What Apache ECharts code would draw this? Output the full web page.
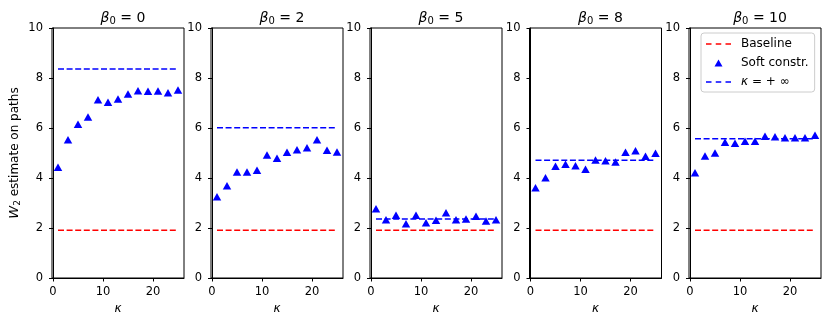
<!DOCTYPE html>
<html><head><meta charset="utf-8">
<script src="https://cdn.jsdelivr.net/npm/echarts@6/dist/echarts.min.js"></script>
<style>html,body{margin:0;padding:0;background:#fff}#c{width:830px;height:325px}</style>
</head><body><div id="c"></div>
<script>
const kappa = [1,3,5,7,9,11,13,15,17,19,21,23,25];
const betas = [0,2,5,8,10];
const baselineValues = [1.91,1.91,1.91,1.91,1.91];
const infValues = [8.36,6.01,2.36,4.71,5.57];
const soft0  = [4.43,5.53,6.15,6.44,7.13,7.03,7.16,7.36,7.49,7.47,7.48,7.41,7.52];
const soft2  = [3.25,3.69,4.24,4.24,4.31,4.92,4.79,5.03,5.13,5.21,5.53,5.11,5.04];
const soft5  = [2.77,2.33,2.51,2.17,2.51,2.21,2.31,2.61,2.33,2.36,2.47,2.28,2.33];
const soft8  = [3.61,4.01,4.47,4.55,4.49,4.35,4.72,4.69,4.64,5.03,5.09,4.87,4.99];
const soft10 = [4.21,4.88,5.00,5.43,5.39,5.47,5.47,5.67,5.65,5.61,5.61,5.61,5.71];
const softAll = [soft0,soft2,soft5,soft8,soft10];
const xTicks = [0,10,20];
const legendNames = ['Baseline','Soft constr.','κ = + ∞'];

const FONT = 'DejaVu Sans';
const lefts = [52,211,370,529.5,689];
const W = 132, TOP = 28, H = 250;
const grids=[], xAxes=[], yAxes=[], series=[], titles=[];
betas.forEach((b,i)=>{
  grids.push({left:lefts[i], top:TOP, width:W, height:H, show:true, borderColor:'#000', borderWidth:1, containLabel:false});
  xAxes.push({type:'value', gridIndex:i, min:-0.2, max:26.2,
    name:'κ', nameLocation:'middle', nameGap:25,
    nameTextStyle:{fontFamily:FONT, fontSize:12, fontStyle:'italic', color:'#000'},
    axisLine:{show:true, onZero:false, lineStyle:{color:'#000'}},
    axisTick:{show:true, length:3.5, customValues:xTicks, lineStyle:{color:'#000'}},
    axisLabel:{customValues:xTicks, fontFamily:FONT, fontSize:11.5, color:'#000', margin:8},
    splitLine:{show:false}});
  yAxes.push({type:'value', gridIndex:i, min:0, max:10, interval:2,
    name: i===0 ? '{i|W}{s|2} estimate on paths' : '',
    nameLocation:'middle', nameGap:30, nameRotate:90,
    nameTextStyle:{fontFamily:FONT, fontSize:12, color:'#000',
      rich:{i:{fontFamily:FONT, fontSize:13, fontStyle:'italic', color:'#000'},
            s:{fontFamily:FONT, fontSize:9, color:'#000', padding:[5,0,0,0]}}},
    axisLine:{show:true, lineStyle:{color:'#000'}},
    axisTick:{show:true, length:4, lineStyle:{color:'#000'}},
    axisLabel:{fontFamily:FONT, fontSize:11.5, color:'#000', margin:9},
    splitLine:{show:false}});
  titles.push({text:'{i|β}{s|0}{n| = '+b+'}', left:lefts[i]+W/2, top:5, textAlign:'center',
    textStyle:{fontWeight:'normal', rich:{i:{fontFamily:FONT, fontSize:14, fontStyle:'italic', fontWeight:'normal', color:'#000'},
      s:{fontFamily:FONT, fontSize:10, fontWeight:'normal', color:'#000', padding:[6,0,0,0]},
      n:{fontFamily:FONT, fontSize:14, fontWeight:'normal', color:'#000'}}}});
  series.push({name:legendNames[0], type:'line', xAxisIndex:i, yAxisIndex:i, symbol:'none',
    data:[[kappa[0],baselineValues[i]],[kappa[kappa.length-1],baselineValues[i]]],
    lineStyle:{color:'#ff0000', width:1.7, type:[6,2.6]}, itemStyle:{color:'#ff0000'}, z:2, animation:false, silent:true});
  series.push({name:legendNames[2], type:'line', xAxisIndex:i, yAxisIndex:i, symbol:'none',
    data:[[kappa[0],infValues[i]],[kappa[kappa.length-1],infValues[i]]],
    lineStyle:{color:'#0000ff', width:1.7, type:[6,2.6]}, itemStyle:{color:'#0000ff'}, z:3, animation:false, silent:true});
  series.push({name:legendNames[1], type:'scatter', xAxisIndex:i, yAxisIndex:i, symbol:'triangle', symbolSize:[8.5,7.5],
    data:kappa.map((k,j)=>[k,softAll[i][j]]), itemStyle:{color:'#0000ff', opacity:1}, z:4, animation:false, silent:true});
});

const corners = 'M0,0h0.01v0.01h-0.01zM25,14h-0.01v-0.01h0.01z';
const dashIcon = 'path://M0,6.15h5.5v1.7h-5.5zM9.75,6.15h5.5v1.7h-5.5zM19.5,6.15h5.5v1.7h-5.5z' + corners;
const triIcon = 'path://M8.5,10.5L12.5,3.5L16.5,10.5Z' + corners;

const chart = echarts.init(document.getElementById('c'), null, {renderer:'canvas'});
chart.setOption({
  animation:false,
  title:titles,
  grid:grids, xAxis:xAxes, yAxis:yAxes, series:series,
  legend:{data:[{name:legendNames[0], icon:dashIcon},{name:legendNames[1], icon:triIcon},{name:legendNames[2], icon:dashIcon}],
    left:701, top:33, orient:'vertical', selectedMode:false,
    borderColor:'#cccccc', borderWidth:1, borderRadius:3, backgroundColor:'#fff',
    padding:[4,6,3,5], itemGap:5, itemWidth:25, itemHeight:14,
    formatter: function(name){ return name === legendNames[2] ? '{i|κ}{n| = + ∞}' : '{n|' + name + '}'; },
    textStyle:{fontFamily:FONT, fontSize:12, color:'#000', padding:[0,0,0,5],
      rich:{i:{fontFamily:FONT, fontSize:12, fontStyle:'italic', color:'#000'},
            n:{fontFamily:FONT, fontSize:12, color:'#000'}}}}
});
</script></body></html>
